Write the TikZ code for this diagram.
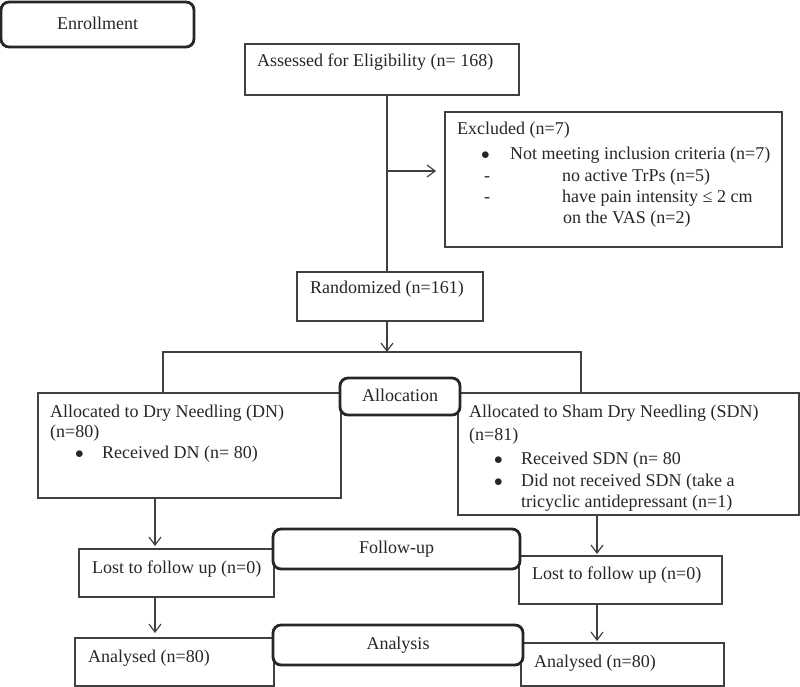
\documentclass[tikz,border=0pt]{standalone}
\usepackage{fontspec}
\setmainfont{Liberation Serif}
\usetikzlibrary{arrows.meta}

\begin{document}
\begin{tikzpicture}[x=1pt,y=-1pt,
        box/.style={draw=black!75,line width=1.2pt,anchor=north west,inner sep=0pt,outer sep=0pt},
        stage/.style={draw=black!85,fill=white,line width=2.8pt,rounded corners=8pt,anchor=north west,
            inner sep=0pt,outer sep=0pt,text=black!85,text height=12pt,text depth=3pt,
            font=\fontsize{18}{21}\selectfont},
        txt/.style={anchor=base west,inner sep=0pt,text=black!85,font=\fontsize{18}{21}\selectfont},
        link/.style={draw=black!75,line width=1.2pt},
        >={Straight Barb[length=8pt,width=12pt]}]
        \useasboundingbox (0,0) rectangle (800,687);
        % boxes
        \draw (245,44) node[box,minimum width=274pt,minimum height=51pt](assess) {};
        \draw (445,112) node[box,minimum width=337pt,minimum height=135pt](excl) {};
        \draw (297,272) node[box,minimum width=186pt,minimum height=49pt](rand) {};
        \draw (38,393) node[box,minimum width=303pt,minimum height=105pt](dn) {};
        \draw (458,393) node[box,minimum width=341pt,minimum height=122pt](sdn) {};
        \draw (79,549) node[box,minimum width=195pt,minimum height=48pt](lostL) {};
        \draw (519,556) node[box,minimum width=203pt,minimum height=48pt](lostR) {};
        \draw (75,638) node[box,minimum width=199pt,minimum height=48pt](anaL) {};
        \draw (521,643) node[box,minimum width=203pt,minimum height=43pt](anaR) {};
        % stage labels
        \draw (1,2) node[stage,minimum width=193pt,minimum height=45pt,text height=14pt](enroll) {Enrollment};
        \draw (340,378) node[stage,minimum width=120pt,minimum height=37pt](alloc) {Allocation};
        \draw (273,529) node[stage,minimum width=247pt,minimum height=40pt](follow) {Follow-up};
        \draw (273,625) node[stage,minimum width=250pt,minimum height=40pt](analysis) {Analysis};
        % texts
        \draw (257,67) node[txt](assessT) {Assessed for Eligibility (n= 168)};
        \draw (457,135) node[txt](exclT1) {Excluded (n=7)};
        \draw (481,160) node[txt](exclB) {$\bullet$};
        \draw (510,160) node[txt](exclT2) {Not meeting inclusion criteria (n=7)};
        \draw (484,182) node[txt](exclD1) {-};
        \draw (562,182) node[txt](exclT3) {no active TrPs (n=5)};
        \draw (484,203) node[txt](exclD2) {-};
        \draw (562,203) node[txt](exclT4) {have pain intensity ≤ 2 cm};
        \draw (563,223) node[txt](exclT5) {on the VAS (n=2)};
        \draw (310,293) node[txt](randT) {Randomized (n=161)};
        \draw (50,417) node[txt](dnT1) {Allocated to Dry Needling (DN)};
        \draw (50,437) node[txt](dnT2) {(n=80)};
        \draw (75,458) node[txt](dnB) {$\bullet$};
        \draw (102,458) node[txt](dnT3) {Received DN (n= 80)};
        \draw (469,417) node[txt](sdnT1) {Allocated to Sham Dry Needling (SDN)};
        \draw (469,440) node[txt](sdnT2) {(n=81)};
        \draw (494,464) node[txt](sdnB1) {$\bullet$};
        \draw (521,464) node[txt](sdnT3) {Received SDN (n= 80};
        \draw (494,486) node[txt](sdnB2) {$\bullet$};
        \draw (521,486) node[txt](sdnT4) {Did not received SDN (take a};
        \draw (521,507) node[txt](sdnT5) {tricyclic antidepressant (n=1)};
        \draw (92,573) node[txt](lostLT) {Lost to follow up (n=0)};
        \draw (532,579) node[txt](lostRT) {Lost to follow up (n=0)};
        \draw (88,662) node[txt](anaLT) {Analysed (n=80)};
        \draw (534,667) node[txt](anaRT) {Analysed (n=80)};
        % connectors
        \coordinate (split) at (387,171);
        \coordinate (branchL) at (163,352);
        \coordinate (branchR) at (581,352);
        \coordinate (colL) at (155,0);
        \coordinate (colR) at (597,0);
        \draw[link] (assess.south -| split) -- (rand.north -| split);
        \draw[link,->,shorten >=9pt] (split) -- (excl.west |- split);
        \draw[link,->] (rand.south -| split) -- (split |- branchL);
        \draw[link] (dn.north -| branchL) -- (branchL) -- (branchR) -- (sdn.north -| branchR);
        \draw[link,->,shorten >=3pt] (dn.south -| colL) -- (lostL.north -| colL);
        \draw[link,->,shorten >=5pt] (lostL.south -| colL) -- (anaL.north -| colL);
        \draw[link,->,shorten >=2pt] (sdn.south -| colR) -- (lostR.north -| colR);
        \draw[link,->,shorten >=2pt] (lostR.south -| colR) -- (anaR.north -| colR);
\end{tikzpicture}
\end{document}
